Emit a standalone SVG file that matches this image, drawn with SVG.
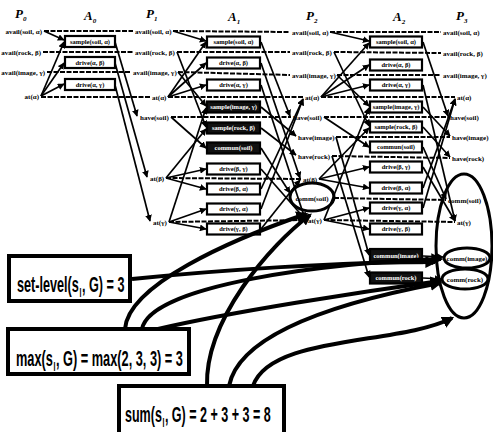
<svg xmlns="http://www.w3.org/2000/svg" width="493" height="432" viewBox="0 0 493 432">
<style>
.pl{font-family:"Liberation Serif","DejaVu Serif",serif;font-size:7px;font-weight:bold;fill:#000}
.al{font-family:"Liberation Serif","DejaVu Serif",serif;font-size:6.5px;font-weight:bold;fill:#000;text-anchor:middle}
.alw{fill:#fff}
.box{fill:#fff;stroke:#000;stroke-width:2.2}
.boxd{fill:#111;stroke:#000;stroke-width:2.2}
.e{fill:none;stroke:#000;stroke-width:1.7;marker-end:url(#ah)}
.n{fill:none;stroke:#000;stroke-width:2;stroke-dasharray:5 1.5}
.h{fill:none;stroke:#000;stroke-width:4;marker-end:url(#ah2)}
.hb{fill:#fff;stroke:#000;stroke-width:4}
.ht{font-family:"Liberation Sans",Arial,sans-serif;font-weight:bold;font-size:22px;fill:#000}
.hs{font-family:"Liberation Sans",Arial,sans-serif;font-weight:bold;font-size:12px;fill:#000}
.hdr{font-family:"Liberation Serif",serif;font-style:italic;font-weight:bold;font-size:13px;fill:#000}
.ell{fill:none;stroke:#000;stroke-width:3}
</style>
<defs>
<marker id="ah" viewBox="0 0 10 10" refX="9" refY="5" markerWidth="4" markerHeight="4" orient="auto"><path d="M0,0L10,5L0,10z" fill="#000"/></marker>
<marker id="ah2" viewBox="0 0 10 10" refX="8" refY="5" markerWidth="3" markerHeight="3" orient="auto"><path d="M0,0L10,5L0,10z" fill="#000"/></marker>
</defs>
<rect width="493" height="432" fill="#fff"/>

<g id="headers">
<text class="hdr" x="15" y="18">P<tspan font-size="7" dy="3">0</tspan></text>
<text class="hdr" x="84" y="20">A<tspan font-size="7" dy="3">0</tspan></text>
<text class="hdr" x="146" y="18">P<tspan font-size="7" dy="3">1</tspan></text>
<text class="hdr" x="228" y="21">A<tspan font-size="7" dy="3">1</tspan></text>
<text class="hdr" x="306" y="20">P<tspan font-size="7" dy="3">2</tspan></text>
<text class="hdr" x="393" y="21">A<tspan font-size="7" dy="3">2</tspan></text>
<text class="hdr" x="456" y="20">P<tspan font-size="7" dy="3">3</tspan></text>
</g>

<g id="connectors">
<!-- level 0 -->
<path class="n" d="M44,31 L133,31"/>
<path class="n" d="M43,52 L133,52"/>
<path class="n" d="M47,72 L131,72"/>
<path class="n" d="M41,97 L150,97"/>
<path class="e" d="M44,31 L64,40"/>
<path class="e" d="M41,96 L64,42"/>
<path class="e" d="M41,96 L64,63"/>
<path class="e" d="M41,96 L64,84"/>
<path class="e" d="M115,42 L137,116"/>
<path class="e" d="M115,63 L147,177"/>
<path class="e" d="M115,85 L150,221"/>
<!-- level 1 -->
<path class="n" d="M173,31 L290,32"/>
<path class="n" d="M177,52 L290,52"/>
<path class="n" d="M178,72 L290,75"/>
<path class="n" d="M168,97 L303,97"/>
<path class="n" d="M171,117 L291,117"/>
<path class="n" d="M166,178 L301,179"/>
<path class="n" d="M169,222 L306,220"/>
<path class="e" d="M173,31 L206,41"/>
<path class="e" d="M168,97 L206,42"/>
<path class="e" d="M168,97 L206,63"/>
<path class="e" d="M168,97 L206,85"/>
<path class="e" d="M178,72 L206,106"/>
<path class="e" d="M169,222 L206,108"/>
<path class="e" d="M169,222 L206,209"/>
<path class="e" d="M169,222 L206,229"/>
<path class="e" d="M177,52 L206,127"/>
<path class="e" d="M166,178 L206,129"/>
<path class="e" d="M166,178 L206,169"/>
<path class="e" d="M166,178 L206,189"/>
<path class="e" d="M171,117 L206,148"/>
<path class="e" d="M261,42 L290,116"/>
<path class="e" d="M261,63 L300,178"/>
<path class="e" d="M261,85 L305,219"/>
<path class="e" d="M261,107 L296,136"/>
<path class="e" d="M261,128 L296,155"/>
<path class="e" d="M261,148 L290,193"/>
<path class="e" d="M261,169 L305,219"/>
<path class="e" d="M261,189 L303,99"/>
<path class="e" d="M261,209 L303,99"/>
<path class="e" d="M261,229 L300,180"/>
<!-- level 2 -->
<path class="n" d="M330,32 L441,32"/>
<path class="n" d="M334,52 L441,53"/>
<path class="n" d="M337,75 L441,75"/>
<path class="n" d="M321,97 L455,97"/>
<path class="n" d="M324,117 L448,117"/>
<path class="n" d="M336,137 L450,137"/>
<path class="n" d="M332,156 L450,158"/>
<path class="n" d="M334,198 L446,200"/>
<path class="n" d="M324,220 L455,222"/>
<path class="e" d="M330,32 L369,41"/>
<path class="e" d="M321,97 L369,43"/>
<path class="e" d="M321,97 L369,65"/>
<path class="e" d="M321,97 L369,85"/>
<path class="e" d="M337,75 L369,106"/>
<path class="e" d="M324,220 L369,108"/>
<path class="e" d="M324,220 L369,208"/>
<path class="e" d="M324,220 L369,229"/>
<path class="e" d="M334,52 L369,126"/>
<path class="e" d="M319,179 L369,128"/>
<path class="e" d="M319,179 L369,167"/>
<path class="e" d="M319,179 L369,188"/>
<path class="e" d="M324,117 L369,147"/>
<path class="e" d="M336,137 L369,255"/>
<path class="e" d="M332,156 L369,277"/>
<path class="e" d="M423,42 L448,116"/>
<path class="e" d="M423,85 L455,221"/>
<path class="e" d="M423,107 L450,136"/>
<path class="e" d="M423,127 L450,157"/>
<path class="e" d="M423,147 L446,199"/>
<path class="e" d="M423,167 L455,221"/>
<path class="e" d="M423,188 L455,99"/>
<path class="e" d="M423,208 L455,99"/>
<path class="e" d="M423,256 L443,257"/>
<path class="e" d="M423,278 L441,279"/>
</g>

<!-- P0 -->
<g id="p0-avail-soil"><text class="pl" x="42" y="33.5" text-anchor="end">avail(soil, α)</text></g>
<g id="p0-avail-rock"><text class="pl" x="41" y="54.5" text-anchor="end">avail(rock, β)</text></g>
<g id="p0-avail-image"><text class="pl" x="45" y="74.5" text-anchor="end">avail(image, γ)</text></g>
<g id="p0-at-alpha"><text class="pl" x="39" y="98.5" text-anchor="end">at(α)</text></g>

<!-- A0 -->
<g id="a0-sample-soil"><rect class="box" x="65" y="36" width="50" height="11"/><text class="al" x="90" y="43.5">sample(soil, α)</text></g>
<g id="a0-drive-ab"><rect class="box" x="65" y="57" width="50" height="11"/><text class="al" x="90" y="64.5">drive(α, β)</text></g>
<g id="a0-drive-ag"><rect class="box" x="65" y="79" width="50" height="11"/><text class="al" x="90" y="86.5">drive(α, γ)</text></g>

<!-- P1 -->
<g id="p1-avail-soil"><text class="pl" x="135" y="33.5">avail(soil, α)</text></g>
<g id="p1-avail-rock"><text class="pl" x="135" y="54.5">avail(rock, β)</text></g>
<g id="p1-avail-image"><text class="pl" x="133" y="74.5">avail(image, γ)</text></g>
<g id="p1-at-alpha"><text class="pl" x="152" y="99.5">at(α)</text></g>
<g id="p1-have-soil"><text class="pl" x="140" y="119.5">have(soil)</text></g>
<g id="p1-at-beta"><text class="pl" x="150" y="180.5">at(β)</text></g>
<g id="p1-at-gamma"><text class="pl" x="153" y="224.5">at(γ)</text></g>

<!-- A1 -->
<g id="a1-sample-soil"><rect class="box" x="207" y="36.5" width="53" height="11"/><text class="al" x="233.5" y="44.3">sample(soil, α)</text></g>
<g id="a1-drive-ab"><rect class="box" x="207" y="57.5" width="53" height="11"/><text class="al" x="233.5" y="65.3">drive(α, β)</text></g>
<g id="a1-drive-ag"><rect class="box" x="207" y="79.5" width="53" height="11"/><text class="al" x="233.5" y="87.3">drive(α, γ)</text></g>
<g id="a1-sample-image"><rect class="boxd" x="207" y="101.5" width="53" height="11"/><text class="al alw" x="233.5" y="109.3">sample(image, γ)</text></g>
<g id="a1-sample-rock"><rect class="boxd" x="207" y="122.5" width="53" height="11"/><text class="al alw" x="233.5" y="130.3">sample(rock, β)</text></g>
<g id="a1-commun-soil"><rect class="boxd" x="207" y="142.5" width="53" height="11"/><text class="al alw" x="233.5" y="150.3">commun(soil)</text></g>
<g id="a1-drive-bg"><rect class="box" x="207" y="163.5" width="53" height="11"/><text class="al" x="233.5" y="171.3">drive(β, γ)</text></g>
<g id="a1-drive-ba"><rect class="box" x="207" y="183.5" width="53" height="11"/><text class="al" x="233.5" y="191.3">drive(β, α)</text></g>
<g id="a1-drive-ga"><rect class="box" x="207" y="203.5" width="53" height="11"/><text class="al" x="233.5" y="211.3">drive(γ, α)</text></g>
<g id="a1-drive-gb"><rect class="box" x="207" y="223.5" width="53" height="11"/><text class="al" x="233.5" y="231.3">drive(γ, β)</text></g>

<!-- P2 -->
<g id="p2-avail-soil"><text class="pl" x="292" y="34.5">avail(soil, α)</text></g>
<g id="p2-avail-rock"><text class="pl" x="292" y="54.5">avail(rock, β)</text></g>
<g id="p2-avail-image"><text class="pl" x="292" y="77.5">avail(image, γ)</text></g>
<g id="p2-at-alpha"><text class="pl" x="305" y="99.5">at(α)</text></g>
<g id="p2-have-soil"><text class="pl" x="293" y="119.5">have(soil)</text></g>
<g id="p2-have-image"><text class="pl" x="298" y="139.5">have(image)</text></g>
<g id="p2-have-rock"><text class="pl" x="298" y="158.5">have(rock)</text></g>
<g id="p2-at-beta"><text class="pl" x="303" y="181.5">at(β)</text></g>
<g id="p2-comm-soil"><ellipse class="ell" cx="312" cy="197" rx="22" ry="14"/><text class="pl" x="312" y="200.5" text-anchor="middle">comm(soil)</text></g>
<g id="p2-at-gamma"><text class="pl" x="308" y="222.5">at(γ)</text></g>

<!-- A2 -->
<g id="a2-sample-soil"><rect class="box" x="370" y="36.5" width="52" height="11"/><text class="al" x="396" y="44.3">sample(soil, α)</text></g>
<g id="a2-drive-ab"><rect class="box" x="370" y="59.5" width="52" height="11"/><text class="al" x="396" y="67.3">drive(α, β)</text></g>
<g id="a2-drive-ag"><rect class="box" x="370" y="79.5" width="52" height="11"/><text class="al" x="396" y="87.3">drive(α, γ)</text></g>
<g id="a2-sample-image"><rect class="box" x="370" y="101.5" width="52" height="11"/><text class="al" x="396" y="109.3">sample(image, γ)</text></g>
<g id="a2-sample-rock"><rect class="box" x="370" y="121.5" width="52" height="11"/><text class="al" x="396" y="129.3">sample(rock, β)</text></g>
<g id="a2-commun-soil"><rect class="box" x="370" y="141.5" width="52" height="11"/><text class="al" x="396" y="149.3">commun(soil)</text></g>
<g id="a2-drive-bg"><rect class="box" x="370" y="161.5" width="52" height="11"/><text class="al" x="396" y="169.3">drive(β, γ)</text></g>
<g id="a2-drive-ba"><rect class="box" x="370" y="182.5" width="52" height="11"/><text class="al" x="396" y="190.3">drive(β, α)</text></g>
<g id="a2-drive-ga"><rect class="box" x="370" y="202.5" width="52" height="11"/><text class="al" x="396" y="210.3">drive(γ, α)</text></g>
<g id="a2-drive-gb"><rect class="box" x="370" y="223.5" width="52" height="11"/><text class="al" x="396" y="231.3">drive(γ, β)</text></g>
<g id="a2-commun-image"><rect class="boxd" x="370" y="249" width="52" height="14"/><text class="al alw" x="396" y="258.3">commun(image)</text></g>
<g id="a2-commun-rock"><rect class="boxd" x="370" y="272.5" width="52" height="11"/><text class="al alw" x="396" y="280.3">commun(rock)</text></g>

<!-- P3 -->
<g id="p3-avail-soil"><text class="pl" x="443" y="34.5">avail(soil, α)</text></g>
<g id="p3-avail-rock"><text class="pl" x="443" y="55.5">avail(rock, β)</text></g>
<g id="p3-avail-image"><text class="pl" x="443" y="77.5">avail(image, γ)</text></g>
<g id="p3-at-alpha"><text class="pl" x="457" y="99.5">at(α)</text></g>
<g id="p3-have-soil"><text class="pl" x="450" y="119.5">have(soil)</text></g>
<g id="p3-have-image"><text class="pl" x="452" y="139.5">have(image)</text></g>
<g id="p3-have-rock"><text class="pl" x="452" y="160.5">have(rock)</text></g>
<g id="p3-goals"><ellipse class="ell" cx="464" cy="246" rx="28" ry="72"/></g>
<g id="p3-comm-soil"><text class="pl" x="448" y="202.5">comm(soil)</text></g>
<g id="p3-at-gamma"><text class="pl" x="457" y="224.5">at(γ)</text></g>
<g id="p3-comm-image"><ellipse class="ell" cx="467" cy="258" rx="23" ry="10"/><text class="pl" x="467" y="260.5" text-anchor="middle">comm(image)</text></g>
<g id="p3-comm-rock"><ellipse class="ell" cx="465" cy="279" rx="23" ry="10"/><text class="pl" x="465" y="281.5" text-anchor="middle">comm(rock)</text></g>

<g id="heuristic-connectors">
<path class="h" d="M132,279 C220,270 340,262 435,262"/>
<path class="h" d="M125,329 C128,285 230,240 306,214"/>
<path class="h" d="M142,329 C150,285 330,262 441,259"/>
<path class="h" d="M158,329 C230,312 360,292 440,281"/>
<path class="h" d="M207,386 C205,320 270,245 310,215"/>
<path class="h" d="M229,386 C240,330 350,300 440,283"/>
<path class="h" d="M253,386 C270,335 400,345 452,318"/>
</g>

<g id="set-level">
<rect class="hb" x="9" y="256" width="121" height="45"/>
<g transform="translate(17,292) scale(0.575,1)">
<text class="ht" x="0" y="0">set-level(s</text>
<text class="hs" x="108.5" y="5">I</text>
<text class="ht" x="113" y="0">, G) = 3</text>
</g>
</g>
<g id="max">
<rect class="hb" x="8" y="329" width="181" height="45"/>
<g transform="translate(16,366) scale(0.58,1)">
<text class="ht" x="0" y="0">max(s</text>
<text class="hs" x="64.6" y="5">I</text>
<text class="ht" x="69" y="0">, G) = max(2, 3, 3) = 3</text>
</g>
</g>
<g id="sum">
<rect class="hb" x="119" y="386" width="165" height="50"/>
<g transform="translate(125,422) scale(0.57,1)">
<text class="ht" x="0" y="0">sum(s</text>
<text class="hs" x="65.8" y="5">I</text>
<text class="ht" x="70" y="0">, G) =  2 + 3 + 3 = 8</text>
</g>
</g>
</svg>
